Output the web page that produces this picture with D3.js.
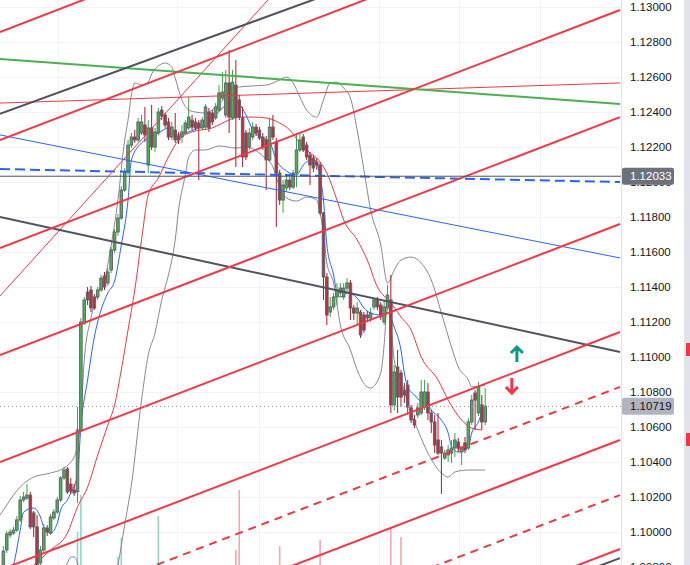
<!DOCTYPE html>
<html>
<head>
<meta charset="utf-8">
<title>EURUSD channel</title>
<script src="https://d3js.org/d3.v7.min.js"></script>
<style>
  body { margin: 0; background: #fff; }
  svg { display: block; font-family: "Liberation Sans", Arial, sans-serif; }
</style>
</head>
<body>
<script>
// ---- candles (one per bar, bar index = position in array)
const opens = [1.09800,1.09897,1.09983,1.09994,1.10011,1.10069,1.10183,1.10194,1.10211,1.10109,
1.10029,1.09823,1.09897,1.10023,1.09994,1.10080,1.10114,1.10183,1.10309,1.10360,
1.10274,1.10240,1.10229,1.10583,1.11194,1.11371,1.11383,1.11343,1.11343,1.11383,
1.11463,1.11423,1.11497,1.11611,1.11714,1.11794,1.11954,1.12057,1.12211,1.12257,
1.12240,1.12280,1.12326,1.12097,1.12309,1.12200,1.12280,1.12411,1.12383,1.12343,
1.12257,1.12297,1.12263,1.12257,1.12280,1.12309,1.12354,1.12343,1.12337,1.12309,
1.12314,1.12400,1.12394,1.12366,1.12411,1.12480,1.12383,1.12566,1.12366,1.12554,
1.12469,1.12366,1.12280,1.12200,1.12257,1.12314,1.12297,1.12257,1.12240,1.12126,
1.12314,1.12229,1.12051,1.11897,1.11966,1.12011,1.11971,1.12051,1.12183,1.12257,
1.12211,1.12154,1.12137,1.12114,1.12097,1.11823,1.11457,1.11257,1.11286,1.11343,
1.11366,1.11343,1.11394,1.11423,1.11280,1.11251,1.11257,1.11240,1.11240,1.11223,
1.11286,1.11326,1.11297,1.11200,1.11286,1.11326,1.10726,1.10943,1.10909,1.10811,
1.10840,1.10709,1.10640,1.10669,1.10680,1.10714,1.10800,1.10680,1.10629,1.10526,
1.10486,1.10423,1.10440,1.10451,1.10480,1.10514,1.10457,1.10509,1.10480,1.10629,
1.10794,1.10680,1.10726,1.10629];
const highs = [1.09920,1.10006,1.10017,1.10029,1.10091,1.10206,1.10229,1.10274,1.10229,1.10120,
1.10097,1.09920,1.10046,1.10040,1.10103,1.10131,1.10200,1.10320,1.10371,1.10371,
1.10309,1.10274,1.10714,1.11223,1.11343,1.11400,1.11406,1.11360,1.11400,1.11469,
1.11486,1.11509,1.11629,1.11731,1.11817,1.11977,1.12080,1.12240,1.12280,1.12297,
1.12366,1.12383,1.12429,1.12354,1.12440,1.12309,1.12423,1.12434,1.12394,1.12366,
1.12343,1.12394,1.12286,1.12326,1.12354,1.12486,1.12383,1.12366,1.12354,1.12371,
1.12446,1.12423,1.12411,1.12451,1.12554,1.12629,1.12640,1.12754,1.12640,1.12697,
1.12497,1.12429,1.12297,1.12309,1.12343,1.12331,1.12314,1.12280,1.12263,1.12366,
1.12383,1.12251,1.12069,1.12011,1.12034,1.12029,1.12069,1.12280,1.12286,1.12274,
1.12229,1.12171,1.12154,1.12137,1.12114,1.11829,1.11480,1.11343,1.11366,1.11423,
1.11423,1.11423,1.11451,1.11440,1.11297,1.11314,1.11269,1.11257,1.11263,1.11280,
1.11337,1.11343,1.11314,1.11326,1.11411,1.11469,1.10954,1.11040,1.10926,1.10851,
1.10869,1.10726,1.10669,1.10737,1.10869,1.10869,1.10851,1.10697,1.10669,1.10680,
1.10526,1.10469,1.10497,1.10526,1.10566,1.10537,1.10486,1.10543,1.10651,1.10783,
1.10811,1.10857,1.10783,1.10823];
const lows = [1.09771,1.09880,1.09966,1.09983,1.10000,1.10057,1.10171,1.10183,1.10017,1.09971,
1.09794,1.09783,1.09886,1.09977,1.09983,1.10069,1.10103,1.10171,1.10297,1.10217,
1.10217,1.10206,1.10166,1.10571,1.11183,1.11297,1.11257,1.11269,1.11326,1.11371,
1.11383,1.11406,1.11480,1.11594,1.11691,1.11783,1.11943,1.12040,1.12194,1.12223,
1.12229,1.12269,1.12229,1.12051,1.12183,1.12171,1.12269,1.12354,1.12309,1.12240,
1.12240,1.12223,1.12217,1.12223,1.12269,1.12297,1.12297,1.12297,1.12011,1.12297,
1.12303,1.12286,1.12326,1.12354,1.12400,1.12469,1.12366,1.12280,1.12354,1.12086,
1.12354,1.12086,1.12126,1.12183,1.12240,1.12263,1.12240,1.12183,1.11954,1.12114,
1.12240,1.11743,1.11869,1.11823,1.11943,1.11954,1.11960,1.11971,1.12171,1.12171,
1.12126,1.11983,1.12057,1.12069,1.11811,1.11326,1.11183,1.11229,1.11269,1.11297,
1.11343,1.11326,1.11371,1.11211,1.11211,1.11183,1.11109,1.11137,1.11200,1.11200,
1.11269,1.11269,1.11211,1.11183,1.11269,1.10680,1.10697,1.10680,1.10714,1.10737,
1.10680,1.10623,1.10594,1.10651,1.10669,1.10697,1.10640,1.10566,1.10451,1.10440,
1.10217,1.10411,1.10400,1.10394,1.10429,1.10457,1.10383,1.10451,1.10469,1.10611,
1.10583,1.10663,1.10583,1.10611];
const closes = [1.09891,1.09989,1.10000,1.10011,1.10069,1.10183,1.10200,1.10211,1.10029,1.10029,
1.09811,1.09897,1.10023,1.10000,1.10086,1.10114,1.10183,1.10309,1.10354,1.10229,
1.10234,1.10223,1.10583,1.11200,1.11326,1.11326,1.11280,1.11280,1.11383,1.11451,
1.11400,1.11486,1.11611,1.11714,1.11794,1.11954,1.12057,1.12211,1.12257,1.12240,
1.12343,1.12343,1.12269,1.12309,1.12200,1.12286,1.12400,1.12377,1.12326,1.12257,
1.12314,1.12240,1.12240,1.12286,1.12337,1.12371,1.12314,1.12309,1.12309,1.12354,
1.12429,1.12309,1.12343,1.12429,1.12509,1.12514,1.12566,1.12371,1.12571,1.12371,
1.12371,1.12143,1.12143,1.12280,1.12314,1.12280,1.12251,1.12200,1.12126,1.12314,
1.12257,1.12051,1.11897,1.11983,1.12011,1.11971,1.12051,1.12183,1.12240,1.12183,
1.12143,1.12097,1.12080,1.12097,1.11823,1.11457,1.11240,1.11286,1.11343,1.11383,
1.11394,1.11394,1.11423,1.11280,1.11251,1.11280,1.11126,1.11154,1.11223,1.11251,
1.11326,1.11286,1.11229,1.11286,1.11354,1.10726,1.10914,1.10771,1.10771,1.10783,
1.10714,1.10640,1.10611,1.10709,1.10800,1.10800,1.10680,1.10629,1.10497,1.10451,
1.10451,1.10451,1.10469,1.10480,1.10526,1.10480,1.10486,1.10469,1.10629,1.10754,
1.10754,1.10829,1.10629,1.10719];

// ---- volume (only the bars tall enough to show)
const volumeBars = [22, 23, 34, 35, 46, 69, 70, 82, 94, 115, 118];
const volumeValues = [640, 825, 515, 610, 720, 550, 850, 570, 600, 660, 615];

// ---- indicators: [bar, price]
const fastMA = [[2,1.09754],[3,1.09811],[5,1.10011],[6,1.10114],[9,1.10137],[11,1.10086],[12,1.10029],
[14,1.09994],[16,1.10051],[17,1.10126],[19,1.10183],[20,1.10223],[22,1.10326],[23,1.10600],[25,1.10869],
[27,1.11114],[29,1.11269],[31,1.11366],[33,1.11434],[35,1.11640],[37,1.11897],[38,1.12126],[41,1.12223],
[43,1.12251],[46,1.12280],[49,1.12309],[52,1.12269],[54,1.12280],[58,1.12309],[61,1.12337],[63,1.12383],
[66,1.12440],[68,1.12469],[70,1.12446],[72,1.12383],[74,1.12297],[77,1.12251],[79,1.12229],[81,1.12126],
[84,1.12063],[87,1.12040],[89,1.12097],[92,1.12131],[93,1.12109],[94,1.12029],[95,1.11897],[96,1.11640],
[98,1.11469],[99,1.11366],[100,1.11343],[102,1.11366],[105,1.11337],[107,1.11280],[109,1.11251],[112,1.11240],
[114,1.11257],[116,1.11171],[118,1.11040],[119,1.10909],[120,1.10829],[122,1.10783],[124,1.10743],[126,1.10726],
[127,1.10697],[130,1.10640],[132,1.10566],[133,1.10486],[135,1.10457],[138,1.10486],[139,1.10566],[141,1.10629],
[142,1.10680],[143,1.10697]];
const basisMA = [[9,1.09811],[14,1.09897],[19,1.09994],[22,1.10143],[25,1.10257],[28,1.10440],[31,1.10611],
[33,1.10726],[35,1.10926],[37,1.11154],[39,1.11383],[41,1.11669],[43,1.11926],[46,1.12023],[49,1.12143],
[52,1.12240],[56,1.12286],[62,1.12309],[67,1.12354],[70,1.12371],[74,1.12371],[78,1.12366],[82,1.12337],
[85,1.12297],[88,1.12223],[91,1.12166],[93,1.12137],[96,1.12051],[99,1.11897],[101,1.11783],[105,1.11669],
[108,1.11554],[111,1.11400],[115,1.11309],[118,1.11229],[121,1.11154],[124,1.11000],[129,1.10869],
[132,1.10754],[136,1.10640],[139,1.10594],[142,1.10583]];
const upperBand = [[-1,1.10097],[1,1.10154],[3,1.10211],[5,1.10257],[9,1.10314],[14,1.10337],[18,1.10366],
[21,1.10429],[22,1.10497],[23,1.10640],[24,1.10983],[26,1.11223],[28,1.11371],[30,1.11440],[32,1.11640],
[34,1.11897],[36,1.12240],[37,1.12354],[38,1.12497],[39,1.12566],[41,1.12554],[43,1.12571],[44,1.12617],
[46,1.12663],[48,1.12680],[50,1.12657],[51,1.12594],[53,1.12469],[55,1.12411],[57,1.12400],[60,1.12394],
[63,1.12429],[66,1.12486],[68,1.12537],[70,1.12543],[74,1.12549],[78,1.12554],[82,1.12583],[84,1.12600],
[86,1.12566],[88,1.12486],[90,1.12411],[93,1.12371],[95,1.12469],[97,1.12566],[99,1.12571],[101,1.12537],
[103,1.12480],[105,1.12297],[107,1.12069],[109,1.11840],[112,1.11640],[114,1.11423],[116,1.11497],
[118,1.11554],[121,1.11571],[124,1.11537],[127,1.11440],[130,1.11251],[133,1.11057],[135,1.10943],
[138,1.10869],[139,1.10829],[143,1.10840]];
const lowerBand = [[17,1.09743],[19,1.09823],[20,1.09857],[21,1.09857],[22,1.09823],[23,1.09726],[25,1.09583],
[31,1.09583],[34,1.09811],[36,1.10040],[38,1.10269],[41,1.10754],[43,1.11011],[45,1.11137],[47,1.11326],
[49,1.11469],[51,1.11669],[52,1.11840],[54,1.12040],[55,1.12143],[57,1.12183],[60,1.12183],[64,1.12206],
[69,1.12194],[72,1.12200],[77,1.12149],[80,1.12086],[82,1.11971],[84,1.11909],[87,1.11891],[90,1.11914],
[93,1.11897],[94,1.11823],[95,1.11709],[96,1.11537],[98,1.11423],[100,1.11183],[103,1.11040],[105,1.10926],
[108,1.10829],[109,1.10823],[112,1.10909],[113,1.11069],[114,1.11314],[115,1.11183],[116,1.10983],
[118,1.10869],[121,1.10680],[123,1.10583],[126,1.10451],[130,1.10337],[132,1.10314],[134,1.10343],
[138,1.10354],[143,1.10354]];

// ---- drawings: price at bar -1 and bar 183 (the two edges of the view)
const channelSolid = [[1.12857,1.14223],[1.12240,1.13600],[1.11623,1.12983],[1.11011,1.12371],
  [1.10400,1.11760],[1.09783,1.11143],[1.09166,1.10526],[1.08543,1.09903]];
const channelDashed = [[1.09469,1.10829],[1.08851,1.10211]];
const greenLine = [1.12703, 1.12446];
const thinRedFlat = [1.12451, 1.12566];
const thinRedSteep = [[-1, 1.11349], [78.5, 1.13040]];
const grayLines = [[1.12389,1.13680],[1.11800,1.11029],[1.08526,1.09851]];
const blueThin = [1.12269, 1.11566];
const blueDashed = [1.12074, 1.12000];
const levelPrice = 1.12033;
const lastPrice = 1.10719;
const arrows = [[152.4, 1.11057, "up"], [150.9, 1.10794, "down"]];

const priceTicks = [1.098,1.100,1.102,1.104,1.106,1.108,1.110,1.112,1.114,1.116,1.118,1.120,1.122,1.124,1.126,1.128,1.130];
const dayLines = [16.2, 51.5, 75.9, 111.5, 135.2, 159.2];

const width = 690, height = 565, plotW = 621;

const svg = d3.select("body").append("svg")
  .attr("width", width)
  .attr("height", height);

const x = d3.scaleLinear().domain([-1, 183]).range([0, 620]);
const y = d3.scaleLinear().domain([1.100, 1.130]).range([532, 7]);
const vol = d3.scaleLinear().domain([0, 1000]).range([660, 460]);

svg.append("defs").append("clipPath").attr("id", "plot")
  .append("rect").attr("width", plotW).attr("height", height);

const plot = svg.append("g").attr("clip-path", "url(#plot)");

// grid
plot.selectAll(".hgrid").data(priceTicks).join("line")
  .attr("x1", 0).attr("x2", plotW)
  .attr("y1", d => Math.round(y(d)) + 0.5).attr("y2", d => Math.round(y(d)) + 0.5)
  .attr("stroke", "#f0f3fa");
plot.selectAll(".vgrid").data(dayLines).join("line")
  .attr("x1", d => Math.round(x(d)) + 0.5).attr("x2", d => Math.round(x(d)) + 0.5)
  .attr("y1", 0).attr("y2", height)
  .attr("stroke", "#f0f3fa");

// volume
plot.selectAll(".vol").data(volumeBars).join("rect")
  .attr("x", d => x(d) - 0.8)
  .attr("width", 1.6)
  .attr("y", (d, k) => vol(volumeValues[k]))
  .attr("height", (d, k) => vol(0) - vol(volumeValues[k]))
  .attr("fill", d => closes[d] >= opens[d] ? "#92d4cb" : "#f7a7ad");

// bands and averages
const curve = d3.line().x(d => x(d[0])).y(d => y(d[1])).curve(d3.curveMonotoneX);
plot.append("path").attr("d", curve(upperBand)).attr("fill", "none").attr("stroke", "#868993").attr("stroke-width", 1);
plot.append("path").attr("d", curve(lowerBand)).attr("fill", "none").attr("stroke", "#868993").attr("stroke-width", 1);
plot.append("path").attr("d", curve(basisMA)).attr("fill", "none").attr("stroke", "#f23645").attr("stroke-width", 1);
plot.append("path").attr("d", curve(fastMA)).attr("fill", "none").attr("stroke", "#2962ff").attr("stroke-width", 1);

// candles
const bars = plot.append("g").selectAll("g").data(closes).join("g");
bars.append("line")
  .attr("x1", (d, i) => x(i)).attr("x2", (d, i) => x(i))
  .attr("y1", (d, i) => y(highs[i])).attr("y2", (d, i) => y(lows[i]))
  .attr("stroke", (d, i) => d >= opens[i] ? "#43a047" : "#a31d2b")
  .attr("stroke-width", 1);
bars.append("rect")
  .attr("x", (d, i) => x(i) - 1.3)
  .attr("width", 2.6)
  .attr("y", (d, i) => y(Math.max(d, opens[i])))
  .attr("height", (d, i) => Math.max(1, Math.abs(y(d) - y(opens[i]))))
  .attr("fill", (d, i) => d >= opens[i] ? "#4caf50" : "#b7323e")
  .attr("stroke", "#5d606b")
  .attr("stroke-width", 0.9);

// drawings
const edge = x.domain();
function drawEdgeLine(p, color, w, dash) {
  plot.append("line")
    .attr("x1", x(edge[0])).attr("y1", y(p[0]))
    .attr("x2", x(edge[1])).attr("y2", y(p[1]))
    .attr("stroke", color).attr("stroke-width", w)
    .attr("stroke-dasharray", dash || null);
}
drawEdgeLine(blueThin, "#2962ff", 1);
drawEdgeLine(blueDashed, "#2962ff", 2, "10,5");
drawEdgeLine(thinRedFlat, "#f23645", 1);
const sl = (thinRedSteep[1][1] - thinRedSteep[0][1]) / (thinRedSteep[1][0] - thinRedSteep[0][0]);
drawEdgeLine([thinRedSteep[0][1] + sl * (edge[0] - thinRedSteep[0][0]),
              thinRedSteep[0][1] + sl * (edge[1] - thinRedSteep[0][0])], "#f23645", 1);
drawEdgeLine(greenLine, "#4caf50", 2);
grayLines.forEach(p => drawEdgeLine(p, "#50535e", 2));
channelSolid.forEach(p => drawEdgeLine(p, "#f23645", 2));
channelDashed.forEach(p => drawEdgeLine(p, "#f23645", 2, "8,6"));

// level lines
plot.append("line").attr("x1", 0).attr("x2", plotW)
  .attr("y1", y(levelPrice)).attr("y2", y(levelPrice))
  .attr("stroke", "#50535e").attr("stroke-width", 1);
plot.append("line").attr("x1", 0).attr("x2", plotW)
  .attr("y1", Math.round(y(lastPrice)) + 0.5).attr("y2", Math.round(y(lastPrice)) + 0.5)
  .attr("stroke", "#9598a1").attr("stroke-width", 1).attr("stroke-dasharray", "1,3");

// arrows
plot.selectAll(".arrow").data(arrows).join("path")
  .attr("transform", d => `translate(${x(d[0])},${y(d[1])})`)
  .attr("d", d => d[2] === "up" ? "M0,0V15M-6,6L0,0L6,6" : "M0,0V-15M-6,-6L0,0L6,-6")
  .attr("fill", "none")
  .attr("stroke", d => d[2] === "up" ? "#089981" : "#f23645")
  .attr("stroke-width", 3);

// price scale
svg.append("line").attr("x1", plotW + 0.5).attr("x2", plotW + 0.5)
  .attr("y1", 0).attr("y2", height).attr("stroke", "#e0e3eb");
const axis = svg.append("g")
  .attr("transform", `translate(${plotW},0)`)
  .call(d3.axisRight(y).tickValues(priceTicks).tickSize(0).tickPadding(9).tickFormat(d3.format(".5f")));
axis.select(".domain").remove();
axis.selectAll("text").attr("fill", "#131722").style("font-size", "11.5px");

function priceTag(p, bg, fg) {
  const g = svg.append("g").attr("transform", `translate(${plotW + 1},${y(p)})`);
  g.append("rect").attr("x", 0).attr("y", -8.5).attr("width", 52).attr("height", 17)
    .attr("rx", 2).attr("fill", bg);
  g.append("text").attr("x", 8).attr("dy", "0.35em").attr("fill", fg)
    .style("font-size", "11.5px").text(d3.format(".5f")(p));
}
priceTag(levelPrice, "#6e717c", "#ffffff");
priceTag(lastPrice, "#b2b5be", "#131722");

// right edge strip
svg.append("rect").attr("x", 684).attr("y", 0).attr("width", 6).attr("height", height).attr("fill", "#e0e3eb");
svg.append("rect").attr("x", 686).attr("y", 343).attr("width", 4).attr("height", 13).attr("fill", "#f23645");
svg.append("rect").attr("x", 686).attr("y", 433).attr("width", 4).attr("height", 13).attr("fill", "#f23645");
</script>
</body>
</html>
